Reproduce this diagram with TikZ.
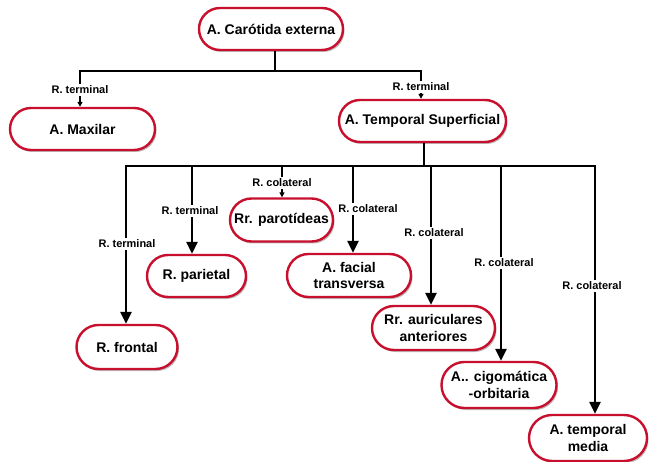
\documentclass[tikz,border=0pt]{standalone}
\usepackage{fontspec}
\setmainfont{Liberation Sans}
\usetikzlibrary{shapes.misc,shadows,arrows.meta}
\definecolor{boxred}{HTML}{C8102E}
\tikzset{
  box/.style={rounded rectangle, draw=boxred, line width=2.4pt, fill=white,
    minimum height=42pt, inner sep=2pt, align=center,
    font=\fontsize{14}{16.5}\selectfont\bfseries,
    drop shadow={shadow xshift=1.5pt, shadow yshift=-2pt, fill=black!45, opacity=0.6}},
  conn/.style={line width=2.4pt, black},
  bigarr/.style={conn, -{Triangle[width=11pt,length=12pt]}},
  smallarr/.style={conn, -{Triangle[width=5pt,length=5pt]}},
  lbl/.style={fill=white, inner sep=1.5pt, font=\fontsize{11}{12}\selectfont\bfseries},
}
\begin{document}
\begin{tikzpicture}[x=1pt,y=-1pt]
\useasboundingbox (0,0) rectangle (650,462);
% boxes
\node[box, minimum width=148pt] (car) at (271,29) {A. Carótida externa};
\node[box, minimum width=149pt] (max) at (82.5,129) {A. Maxilar};
\node[box, minimum width=171pt] (ts) at (422.5,121) {A. Temporal Superficial};
\node[box, minimum width=105pt, minimum height=44pt] (fro) at (127,347) {R. frontal};
\node[box, minimum width=103pt] (par) at (196.5,276) {R. parietal};
\node[box, minimum width=103pt, minimum height=43pt, inner sep=0pt] (pot) at (281.5,220) {Rr. parotídeas};
\node[box, minimum width=128pt, minimum height=43pt] (fac) at (349,275.5) {A. facial\\transversa};
\node[box, minimum width=127pt, minimum height=44pt] (aur) at (433.5,328) {Rr. auriculares\\anteriores};
\node[box, minimum width=119pt, minimum height=46pt] (cig) at (499,385) {A.. cigomática\\-orbitaria};
\node[box, minimum width=122pt, minimum height=46pt] (tme) at (588,438) {A. temporal\\media};
% top bus
\coordinate (t0) at (275,71);
\coordinate (tl) at (80,71);
\coordinate (tr) at (421,71);
\draw[conn] (car.south -| t0) -- (t0);
\draw[conn, line cap=rect] (tl) -- (tr);
\draw[smallarr] (tl) -- (tl |- max.north);
\draw[smallarr] (tr) -- (tr |- ts.north);
% lower bus
\coordinate (s0) at (424,166);
\coordinate (b1) at (126,166);
\coordinate (b2) at (192,166);
\coordinate (b3) at (282,166);
\coordinate (b4) at (353,166);
\coordinate (b5) at (431,166);
\coordinate (b6) at (501,166);
\coordinate (b7) at (595,166);
\draw[conn] (ts.south -| s0) -- (s0);
\draw[conn, line cap=rect] (b1) -- (b7);
\draw[bigarr] (b1) -- (b1 |- fro.north);
\draw[bigarr] (b2) -- (b2 |- par.north);
\draw[smallarr] (b3) -- (b3 |- pot.north);
\draw[bigarr] (b4) -- (b4 |- fac.north);
\draw[bigarr] (b5) -- (b5 |- aur.north);
\draw[bigarr] (b6) -- (b6 |- cig.north);
\draw[bigarr] (b7) -- (b7 |- tme.north);
% labels
\node[lbl] (l0) at (80,90) {R. terminal};
\node[lbl] (l1) at (421,87) {R. terminal};
\node[lbl] (l2) at (127,244) {R. terminal};
\node[lbl] (l3) at (190,211) {R. terminal};
\node[lbl] (l4) at (282,183) {R. colateral};
\node[lbl] (l5) at (368,209) {R. colateral};
\node[lbl] (l6) at (434,233) {R. colateral};
\node[lbl] (l7) at (504,263) {R. colateral};
\node[lbl] (l8) at (592,286) {R. colateral};
\end{tikzpicture}
\end{document}
